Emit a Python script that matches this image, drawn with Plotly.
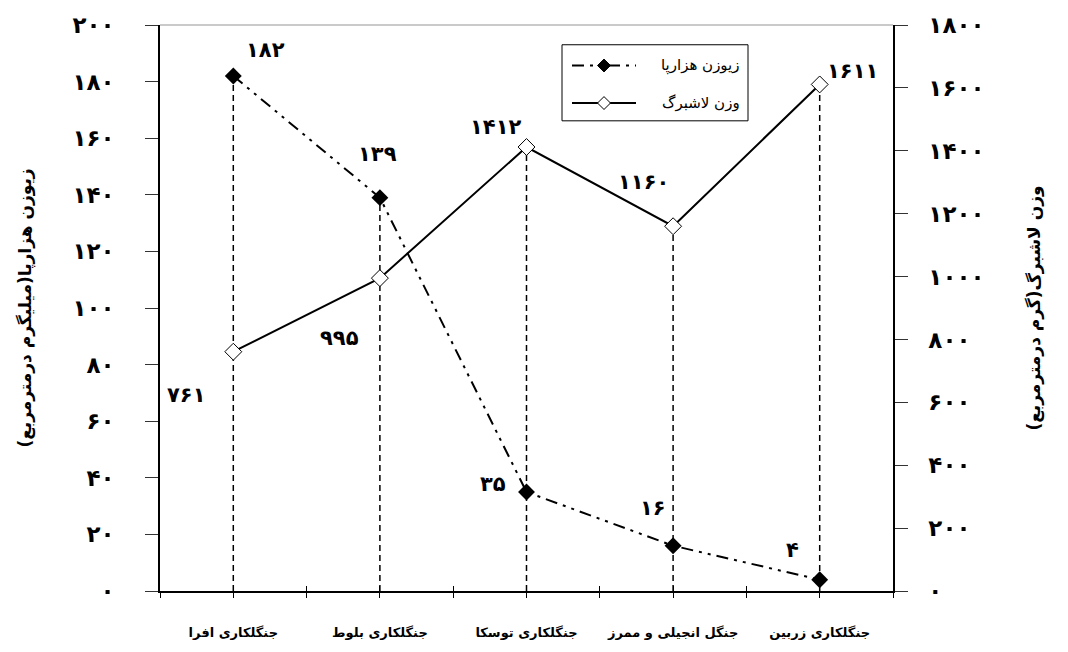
import plotly.graph_objects as go

# Forest stands (category axis)
stands = ["جنگلکاری افرا", "جنگلکاری بلوط", "جنگلکاری توسکا", "جنگل انجیلی و ممرز", "جنگلکاری زربین"]
# Millipede biomass (mg per m2), left axis
millipede = [182, 139, 35, 16, 4]
# Litter weight (g per m2), right axis
litter = [761, 995, 1412, 1160, 1611]

left_ticks = list(range(0, 201, 20))
right_ticks = list(range(0, 1801, 200))

name_millipede = "زیوزن هزارپا"
name_litter = "وزن لاشبرگ"
title_left = "زیوزن هزارپا(میلیگرم درمترمربع)\u200f"
title_right = "وزن لاشبرگ(گرم درمترمربع)\u200f"

FA_DIGITS = str.maketrans("0123456789", "۰۱۲۳۴۵۶۷۸۹")


def fa(n):
    return str(n).translate(FA_DIGITS)


FONT = "DejaVu Sans"
DASHDOT = "12px,6px,3px,6px,3px,6px"
DROP = "6px,4px"

x = list(range(len(stands)))
fig = go.Figure()

# vertical dashed drop lines from the higher marker down to the axis
for i in x:
    f1 = millipede[i] / left_ticks[-1]
    f2 = litter[i] / right_ticks[-1]
    if f1 >= f2:
        fig.add_trace(go.Scatter(x=[i, i], y=[0, millipede[i]], mode="lines",
                                 line=dict(color="black", width=1.5, dash=DROP),
                                 showlegend=False, hoverinfo="skip", yaxis="y"))
    else:
        fig.add_trace(go.Scatter(x=[i, i], y=[0, litter[i]], mode="lines",
                                 line=dict(color="black", width=1.5, dash=DROP),
                                 showlegend=False, hoverinfo="skip", yaxis="y2"))

fig.add_trace(go.Scatter(
    x=x, y=millipede, name=name_millipede, mode="lines+markers",
    line=dict(color="black", width=2, dash=DASHDOT),
    marker=dict(symbol="diamond", size=13, color="black"),
    yaxis="y", showlegend=False))

fig.add_trace(go.Scatter(
    x=x, y=litter, name=name_litter, mode="lines+markers",
    line=dict(color="black", width=2),
    marker=dict(symbol="diamond", size=13, color="white", line=dict(color="black", width=1)),
    yaxis="y2", showlegend=False))

# invisible trace carrying the overlay axis used for inner tick marks
fig.add_trace(go.Scatter(x=[0], y=[0], mode="markers", marker=dict(opacity=0),
                         xaxis="x2", yaxis="y", showlegend=False, hoverinfo="skip"))

# value labels
mill_off = [(32, 26), (-2, 44), (-34, 8), (-20, 38), (-27, 30)]
litt_off = [(-47, -43), (-40, -60), (-31, 20), (-30, 44), (33, 13)]
LABEL_FONT = dict(family=FONT, size=21, color="black", weight="bold")
annotations = []
for i in x:
    annotations.append(dict(x=i, y=millipede[i], xref="x", yref="y", text=fa(millipede[i]),
                            showarrow=False, xshift=mill_off[i][0], yshift=mill_off[i][1],
                            font=LABEL_FONT))
    annotations.append(dict(x=i, y=litter[i], xref="x", yref="y2", text=fa(litter[i]),
                            showarrow=False, xshift=litt_off[i][0], yshift=litt_off[i][1],
                            font=LABEL_FONT))

# plot area in pixels: x 160..893, y 24..597
L, R, T, B = 160, 893, 24, 597


def px(v):
    return (v - L) / (R - L)


def py(v):
    return (B - v) / (B - T)


def diamond(cx, cy, h=6.5):
    return (f"M{px(cx - h)},{py(cy)} L{px(cx)},{py(cy - h)} "
            f"L{px(cx + h)},{py(cy)} L{px(cx)},{py(cy + h)} Z")


shapes = [
    # light border along the top of the plot area
    dict(type="line", xref="paper", yref="paper", x0=0, x1=1, y0=1, y1=1,
         line=dict(color="#b8b8b8", width=1.5)),
    # legend box
    dict(type="rect", xref="paper", yref="paper", x0=px(562), x1=px(748), y0=py(44), y1=py(121),
         line=dict(color="black", width=1), fillcolor="white"),
    dict(type="line", xref="paper", yref="paper", x0=px(572), x1=px(636), y0=py(65), y1=py(65),
         line=dict(color="black", width=2, dash=DASHDOT)),
    dict(type="path", xref="paper", yref="paper", path=diamond(604, 65),
         fillcolor="black", line=dict(color="black", width=1)),
    dict(type="line", xref="paper", yref="paper", x0=px(572), x1=px(636), y0=py(103), y1=py(103),
         line=dict(color="black", width=2)),
    dict(type="path", xref="paper", yref="paper", path=diamond(604, 103),
         fillcolor="white", line=dict(color="black", width=1)),
]
annotations.append(dict(x=px(742), y=py(65), xref="paper", yref="paper", text=name_millipede,
                        showarrow=False, xanchor="right", yanchor="middle",
                        font=dict(family=FONT, size=15, color="black")))
annotations.append(dict(x=px(742), y=py(103), xref="paper", yref="paper", text=name_litter,
                        showarrow=False, xanchor="right", yanchor="middle",
                        font=dict(family=FONT, size=15, color="black")))

half_ticks = [v / 2 for v in range(-1, 2 * len(stands))]
half_text = [stands[int(v)] if float(v).is_integer() and v >= 0 else "" for v in half_ticks]

TICK_FONT = dict(family=FONT, size=23, color="black", weight="bold")
TITLE_FONT = dict(family=FONT, size=17, color="black", weight="bold")

fig.update_layout(
    width=1068, height=652,
    margin=dict(l=L, r=1068 - R, t=T, b=652 - B),
    paper_bgcolor="white", plot_bgcolor="white",
    font=dict(family=FONT, color="black"),
    showlegend=False,
    xaxis=dict(range=[-0.5, len(stands) - 0.5], tickmode="array", tickvals=half_ticks,
               ticktext=half_text, ticks="outside", ticklen=5, tickwidth=1.2, tickcolor="black",
               showline=True, linecolor="black", linewidth=1.5, showgrid=False, zeroline=False,
               ticklabelstandoff=24,
               tickfont=dict(family=FONT, size=13, color="black", weight="bold")),
    xaxis2=dict(range=[-0.5, len(stands) - 0.5], overlaying="x", anchor="y", side="bottom",
                tickmode="array", tickvals=half_ticks, ticks="inside", ticklen=5, tickwidth=1.2,
                tickcolor="black", showticklabels=False, showline=False, showgrid=False,
                zeroline=False),
    yaxis=dict(range=[0, left_ticks[-1]], tickmode="array", tickvals=left_ticks,
               ticktext=[fa(v) for v in left_ticks], ticks="outside", ticklen=13, tickwidth=1.2,
               tickcolor="#333333", showline=True, linecolor="black", linewidth=1.5,
               showgrid=False, zeroline=False, ticklabelstandoff=26,
               tickfont=TICK_FONT,
               title=dict(text=title_left, standoff=37, font=TITLE_FONT)),
    yaxis2=dict(range=[0, right_ticks[-1]], overlaying="y", side="right", anchor="x",
                tickmode="array", tickvals=right_ticks, ticktext=[fa(v) for v in right_ticks],
                ticks="outside", ticklen=13, tickwidth=1.2, tickcolor="#333333",
                showline=True, linecolor="black", linewidth=1.5, showgrid=False, zeroline=False,
                ticklabelstandoff=16,
                tickfont=TICK_FONT,
                title=dict(text=title_right, standoff=45, font=TITLE_FONT)),
    shapes=shapes,
    annotations=annotations,
)

fig.write_html("out.html")
